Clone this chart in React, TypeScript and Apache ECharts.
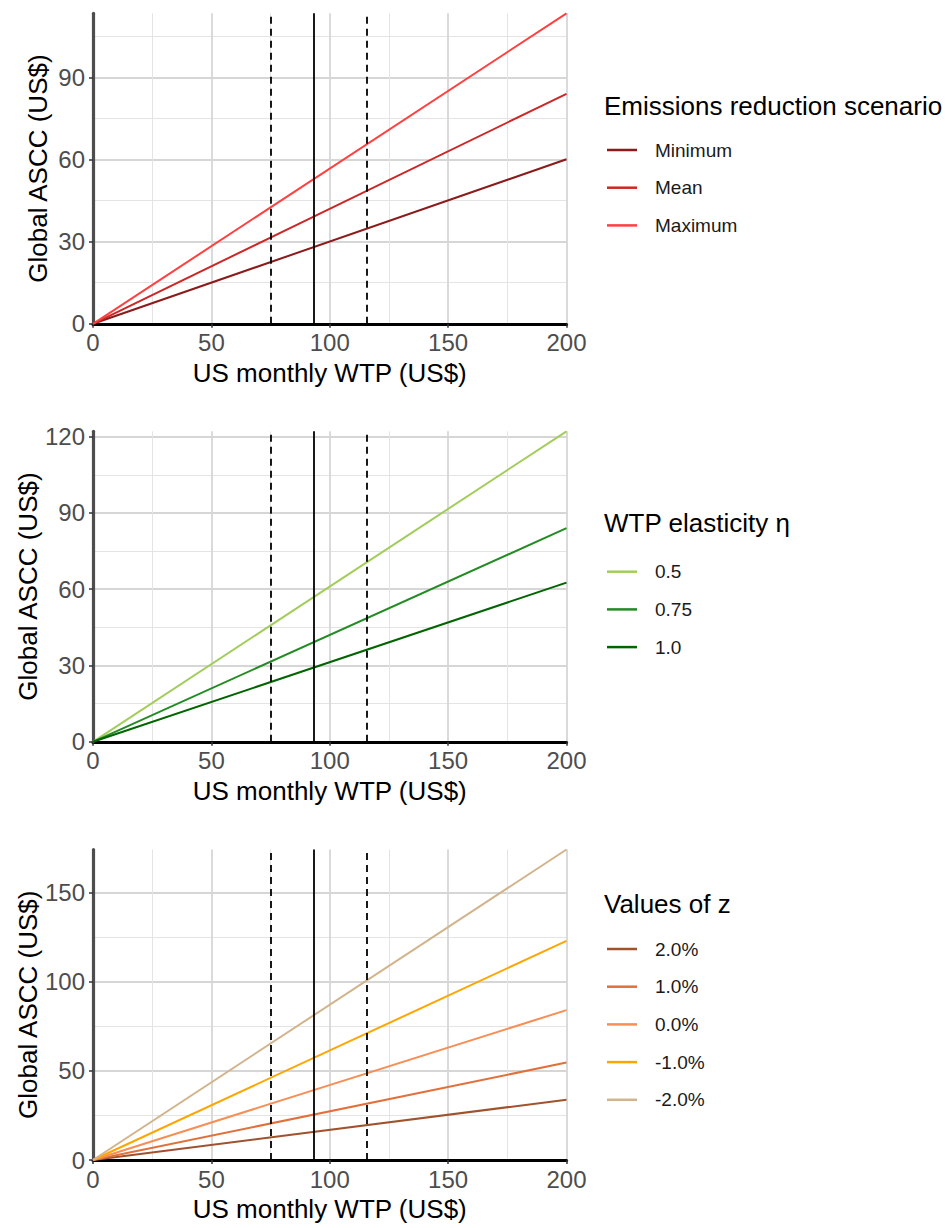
import React, { useEffect, useRef } from "react";
import * as echarts from "echarts";

// ---------- data ----------
const wtp = [0, 200]; // US monthly WTP (US$)

// Panel 1: emissions reduction scenario
const scenarioNames = ["Minimum", "Mean", "Maximum"];
const scenarioMin = [0, 60.1];
const scenarioMean = [0, 84];
const scenarioMax = [0, 113.4];
const scenarioColors = ["#8B1A1A", "#CD2626", "#FF4040"];

// Panel 2: WTP elasticity
const etaNames = ["0.5", "0.75", "1.0"];
const eta05 = [0, 122.1];
const eta075 = [0, 84];
const eta10 = [0, 62.6];
const etaColors = ["#A2CD5A", "#228B22", "#006400"];

// Panel 3: values of z
const zNames = ["2.0%", "1.0%", "0.0%", "-1.0%", "-2.0%"];
const zP2 = [0, 33.8];
const zP1 = [0, 54.6];
const z0 = [0, 84];
const zM1 = [0, 122.8];
const zM2 = [0, 174];
const zColors = ["#A0522D", "#E2703A", "#F78E55", "#FFA500", "#D2B48C"];

// vertical reference lines (US$)
const refValues = [75.2, 93.2, 115.5];
const refTypes = ["dashed", "solid", "dashed"];

const legendTitles = ["Emissions reduction scenario", "WTP elasticity η", "Values of z"];
const yMaxes = [113.4, 122.1, 174];
const yIntervals = [30, 30, 50];

const FONT = "'Liberation Sans', Arial, sans-serif";

export default function App() {
  const ref = useRef<HTMLDivElement>(null);

  useEffect(() => {
    if (!ref.current) return;
    const chart = echarts.init(ref.current, undefined, { renderer: "svg" });

    const gridTops = [13.3, 431.3, 849.5];
    const gridH = 310.5;
    const legendTops = [140, 561.7, 939];
    const titleTops = [93, 510, 891];

    const panels = [
      { names: scenarioNames, values: [scenarioMin, scenarioMean, scenarioMax], colors: scenarioColors },
      { names: etaNames, values: [eta05, eta075, eta10], colors: etaColors },
      { names: zNames, values: [zP2, zP1, z0, zM1, zM2], colors: zColors },
    ];

    const grid: any[] = [];
    const xAxis: any[] = [];
    const yAxis: any[] = [];
    const series: any[] = [];
    const legend: any[] = [];
    const title: any[] = [];

    panels.forEach((p, pi) => {
      grid.push({ left: 93, width: 473.5, top: gridTops[pi], height: gridH, containLabel: false });
      xAxis.push({
        type: "value",
        gridIndex: pi,
        min: 0,
        max: 200,
        interval: 50,
        name: "US monthly WTP (US$)",
        nameLocation: "middle",
        nameGap: 36,
        nameTextStyle: { fontSize: 26, color: "#000", fontFamily: FONT },
        axisLine: { show: true, onZero: false, lineStyle: { color: "#000", width: 3.2 } },
        axisTick: { show: true, length: 4, lineStyle: { color: "#333", width: 1.5 } },
        axisLabel: { fontSize: 24, color: "#4d4d4d", margin: 7, fontFamily: FONT },
        splitLine: { show: true, lineStyle: { color: "#d6d6d6", width: 1.8 } },
        minorTick: { show: false, splitNumber: 2 },
        minorSplitLine: { show: true, lineStyle: { color: "#e4e4e4", width: 1 } },
        z: 1,
      });
      // primary y axis (major)
      yAxis.push({
        type: "value",
        gridIndex: pi,
        min: 0,
        max: yMaxes[pi],
        interval: yIntervals[pi],
        name: "Global ASCC (US$)",
        nameLocation: "middle",
        nameRotate: 90,
        nameGap: 42,
        nameTextStyle: { fontSize: 26, color: "#000", fontFamily: FONT },
        axisLine: { show: true, onZero: false, lineStyle: { color: "#4d4d4d", width: 3.2 } },
        axisTick: { show: true, length: 4, lineStyle: { color: "#333", width: 1.5 } },
        axisLabel: { fontSize: 24, color: "#4d4d4d", margin: 8, fontFamily: FONT, showMaxLabel: false },
        splitLine: { show: true, showMaxLine: false, lineStyle: { color: "#d6d6d6", width: 1.8 } },
        z: 1,
      });
    });
    // secondary y axes (minor grid lines only)
    panels.forEach((p, pi) => {
      yAxis.push({
        type: "value",
        gridIndex: pi,
        position: "left",
        min: 0,
        max: yMaxes[pi],
        interval: yIntervals[pi] / 2,
        axisLine: { show: false },
        axisTick: { show: false },
        axisLabel: { show: false },
        splitLine: { show: true, showMaxLine: false, lineStyle: { color: "#e4e4e4", width: 1 } },
        z: 0,
      });
    });

    panels.forEach((p, pi) => {
      p.names.forEach((name, si) => {
        const s: any = {
          type: "line",
          name,
          xAxisIndex: pi,
          yAxisIndex: pi,
          data: wtp.map((x, i) => [x, p.values[si][i]]),
          showSymbol: false,
          symbol: "none",
          lineStyle: { color: p.colors[si], width: 2 },
          itemStyle: { color: p.colors[si] },
          silent: true,
          z: 3,
        };
        if (si === 0) {
          s.markLine = {
            silent: true,
            symbol: ["none", "none"],
            label: { show: false },
            emphasis: { disabled: true },
            z: 4,
            data: refValues.map((v, k) => ({
              xAxis: v,
              lineStyle: { color: "#000", width: 1.8, type: refTypes[k] === "dashed" ? [7, 5] : "solid" },
            })),
          };
        }
        series.push(s);
      });
      legend.push({
        data: p.names,
        orient: "vertical",
        left: 607,
        top: legendTops[pi],
        icon: "rect",
        itemWidth: 30,
        itemHeight: 2.5,
        itemGap: 17.7,
        padding: 0,
        selectedMode: false,
        textStyle: { fontSize: 19, lineHeight: 20, color: "#1a1a1a", fontFamily: FONT, padding: [0, 0, 0, 13] },
      });
      title.push({
        text: legendTitles[pi],
        left: 604,
        top: titleTops[pi],
        padding: 0,
        textStyle: { fontSize: 26, fontWeight: "normal", color: "#000", fontFamily: FONT },
      });
    });

    chart.setOption({
      animation: false,
      backgroundColor: "#fff",
      textStyle: { fontFamily: FONT },
      title,
      legend,
      grid,
      xAxis,
      yAxis,
      series,
    });

    return () => chart.dispose();
  }, []);

  return (
    <div
      ref={ref}
      style={{ position: "absolute", left: 0, top: 0, width: 950, height: 1228 }}
    />
  );
}
